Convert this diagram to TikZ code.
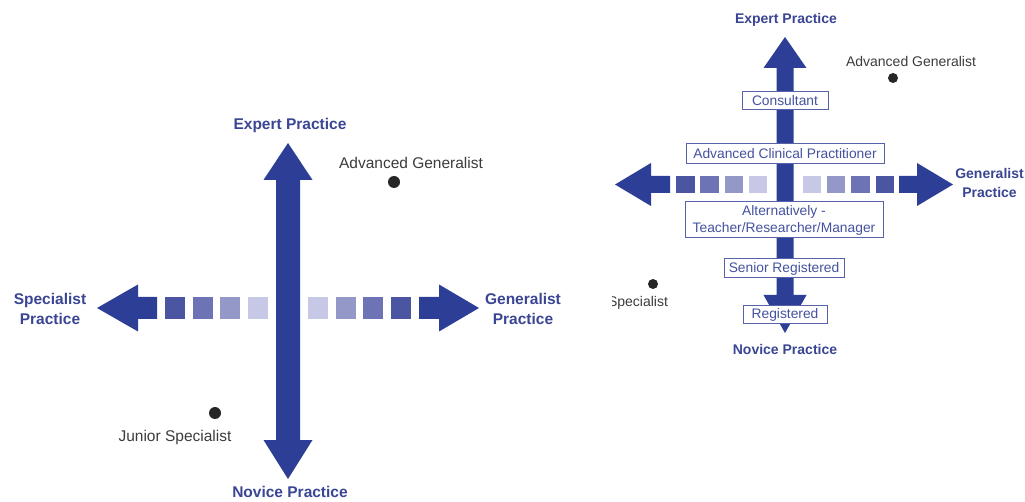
\documentclass[tikz,border=0pt]{standalone}
\usepackage{fontspec}
\setmainfont{Liberation Sans}
\definecolor{arrowblue}{HTML}{2C3E96}
\definecolor{lblblue}{HTML}{3A4694}
\definecolor{sqA}{HTML}{4A56A2}
\definecolor{sqB}{HTML}{6D73B4}
\definecolor{sqC}{HTML}{9398C9}
\definecolor{sqD}{HTML}{C6C8E5}
\definecolor{notegray}{HTML}{3C3C3C}
\definecolor{boxblue}{HTML}{5862AA}
\definecolor{boxtext}{HTML}{4452A0}
\begin{document}
\begin{tikzpicture}[x=1pt,y=-1pt,
  arrowfill/.style={fill=arrowblue,draw=none},
  lblL/.style={font=\fontsize{15.5}{20}\selectfont\bfseries,text=lblblue,align=center,inner sep=0pt},
  lblR/.style={font=\fontsize{14}{19}\selectfont\bfseries,text=lblblue,align=center,inner sep=0pt},
  noteL/.style={font=\fontsize{15.5}{19}\selectfont,text=notegray,inner sep=0pt},
  noteR/.style={font=\fontsize{14}{17}\selectfont,text=notegray,inner sep=0pt},
  dotmark/.style={circle,fill=black!85,draw=none,inner sep=0pt,minimum size=#1},
  rankbox/.style={draw=boxblue,line width=1pt,fill=white,text=boxtext,
    font=\fontsize{13.8}{17}\selectfont,align=center,inner sep=0pt}]
\useasboundingbox (0,0) rectangle (1025,502);
\fill[white] (0,0) rectangle (1025,502);

% ================= LEFT FIGURE =================
% vertical double arrow
\fill[arrowfill] (288,143) -- (312.5,180) -- (300,180) -- (300,440) -- (312.5,440)
  -- (288,479) -- (263.5,440) -- (276,440) -- (276,180) -- (263.5,180) -- cycle;
% left arrow
\fill[arrowfill] (97,308) -- (138,284.5) -- (138,297) -- (157,297) -- (157,319)
  -- (138,319) -- (138,331.5) -- cycle;
% right arrow
\fill[arrowfill] (479,308) -- (439,284.5) -- (439,297) -- (419,297) -- (419,319)
  -- (439,319) -- (439,331.5) -- cycle;
% squares
\fill[sqA] (165,297) rectangle ++(20,22);
\fill[sqB] (192.7,297) rectangle ++(20,22);
\fill[sqC] (220.4,297) rectangle ++(20,22);
\fill[sqD] (248.1,297) rectangle ++(20,22);
\fill[sqD] (308,297) rectangle ++(20,22);
\fill[sqC] (335.7,297) rectangle ++(20,22);
\fill[sqB] (363.4,297) rectangle ++(20,22);
\fill[sqA] (391.1,297) rectangle ++(20,22);

\node[lblL] (lexp) at (290,125) {Expert Practice};
\node[lblL] (lnov) at (290,492) {Novice Practice};
\node[lblL] (lspec) at (50,309) {Specialist\\Practice};
\node[lblL] (lgen) at (523,309) {Generalist\\Practice};
\node[noteL] (ladvt) at (411,163) {Advanced Generalist};
\node[dotmark=12pt] (ladvd) at (394,182) {};
\node[noteL] (ljunt) at (175,437) {Junior Specialist};
\node[dotmark=12pt] (ljund) at (215,413) {};

% ================= RIGHT FIGURE =================
% vertical double arrow
\fill[arrowfill] (785,37) -- (806.5,68) -- (793.5,68) -- (793.5,295) -- (806.5,295)
  -- (785,333) -- (763.5,295) -- (776.5,295) -- (776.5,68) -- (763.5,68) -- cycle;
% left arrow
\fill[arrowfill] (615,184.5) -- (651,163) -- (651,176) -- (670,176) -- (670,193)
  -- (651,193) -- (651,206) -- cycle;
% right arrow
\fill[arrowfill] (953,184.5) -- (917,163) -- (917,176) -- (899,176) -- (899,193)
  -- (917,193) -- (917,206) -- cycle;
% squares
\fill[sqA] (676,176) rectangle ++(18.5,17);
\fill[sqB] (700.3,176) rectangle ++(18.5,17);
\fill[sqC] (724.6,176) rectangle ++(18.5,17);
\fill[sqD] (748.9,176) rectangle ++(18.5,17);
\fill[sqD] (802.6,176) rectangle ++(18.5,17);
\fill[sqC] (826.9,176) rectangle ++(18.5,17);
\fill[sqB] (851.2,176) rectangle ++(18.5,17);
\fill[sqA] (875.5,176) rectangle ++(18.5,17);

% rank boxes
\node[rankbox,minimum width=86pt,minimum height=18pt] (cons) at (785,101) {Consultant};
\node[rankbox,minimum width=198pt,minimum height=20pt] (acp) at (785,154) {Advanced Clinical Practitioner};
\node[rankbox,minimum width=198pt,minimum height=36pt] (alt) at (784,220) {Alternatively -\\Teacher/Researcher/Manager};
\node[rankbox,minimum width=120pt,minimum height=19pt] (snr) at (784,268.5) {Senior Registered};
\node[rankbox,minimum width=84pt,minimum height=18pt] (reg) at (785,315) {Registered};

\node[lblR] (rexp) at (786,20) {Expert Practice};
\node[lblR] (rnov) at (785,349) {Novice Practice};
\node[lblR] (rgen) at (989.5,183) {Generalist\\Practice};
\node[noteR] (radvt) at (911,62) {Advanced Generalist};
\node[dotmark=10pt] (radvd) at (893,78) {};
\node[dotmark=10pt] (rspecd) at (653,284) {};
\begin{scope}
  \clip (612,290) rectangle (700,320);
  \node[noteR] (rspect) at (638,303) {Specialist};
\end{scope}
\end{tikzpicture}
\end{document}
